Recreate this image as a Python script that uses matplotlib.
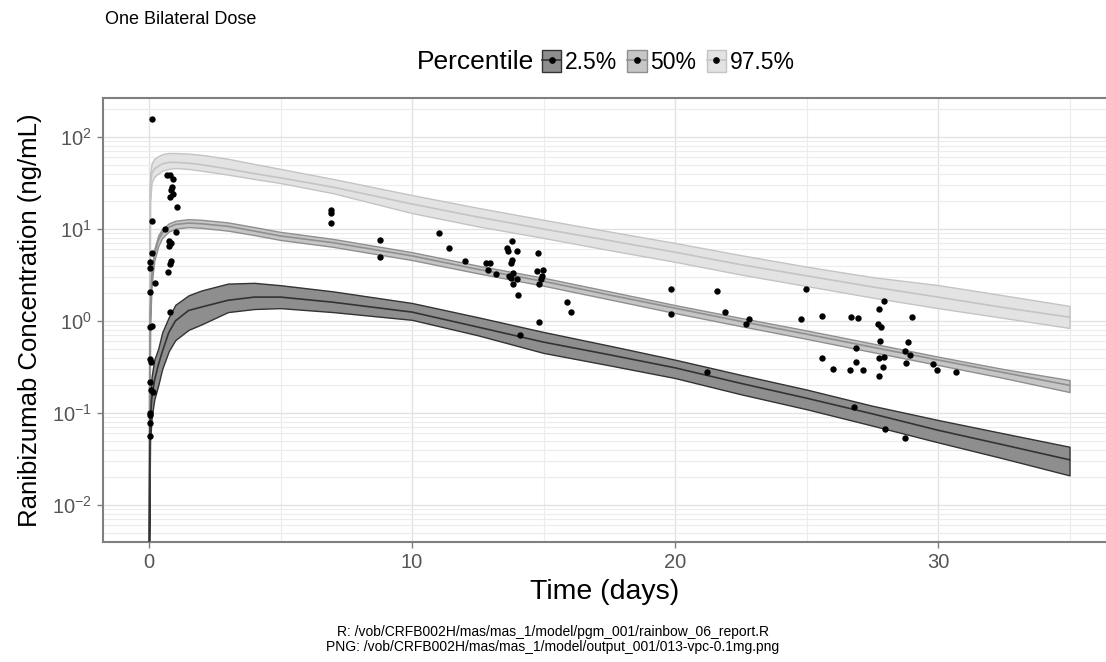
import numpy as np
import matplotlib
matplotlib.use("Agg")
import matplotlib.pyplot as plt
from matplotlib.patches import Patch
from matplotlib.lines import Line2D
from matplotlib.ticker import MultipleLocator, LogLocator, FixedLocator

plt.rcParams['font.family'] = ['Liberation Sans', 'DejaVu Sans']
plt.rcParams['mathtext.fontset'] = 'custom'
plt.rcParams['mathtext.rm'] = 'Liberation Sans'
plt.rcParams['mathtext.it'] = 'Liberation Sans'

# simulated percentile bands (time grid shared by all three)
sim_time = [0, 0.04, 0.1, 0.2, 0.35, 0.5, 0.75, 1.0, 1.5, 2, 3, 4, 5, 7, 10,
            12.5, 15, 17.5, 20, 22.5, 25, 27.5, 30, 32.5, 35]

p025_lo = [0.003, 0.05, 0.09, 0.14, 0.2, 0.3, 0.47, 0.62, 0.8, 0.92, 1.25, 1.35, 1.38, 1.25, 1.03,
           0.7, 0.45, 0.33, 0.24, 0.16, 0.11, 0.073, 0.048, 0.032, 0.021]
p025_mid = [0.003, 0.08, 0.14, 0.22, 0.33, 0.46, 0.75, 1.0, 1.3, 1.42, 1.68, 1.82, 1.82, 1.6, 1.25,
            0.86, 0.59, 0.43, 0.31, 0.21, 0.145, 0.098, 0.065, 0.045, 0.031]
p025_hi = [0.003, 0.14, 0.25, 0.38, 0.5, 0.75, 1.1, 1.5, 1.9, 2.15, 2.55, 2.6, 2.45, 2.1, 1.57,
           1.1, 0.76, 0.54, 0.38, 0.26, 0.18, 0.12, 0.084, 0.06, 0.043]

p50_lo = [0.003, 0.9, 2.5, 4.5, 6.5, 8.0, 9.4, 10.1, 10.5, 10.3, 9.6, 8.6, 7.6, 6.4, 4.6,
          3.3, 2.42, 1.72, 1.22, 0.88, 0.64, 0.46, 0.333, 0.24, 0.169]
p50_mid = [0.003, 1.2, 3.0, 5.2, 7.5, 9.0, 10.4, 11.2, 11.6, 11.4, 10.7, 9.5, 8.4, 7.1, 5.1,
           3.65, 2.7, 1.92, 1.38, 0.99, 0.72, 0.52, 0.377, 0.275, 0.2]
p50_hi = [0.003, 1.5, 3.5, 6.0, 8.5, 10.0, 11.5, 12.3, 12.8, 12.6, 11.8, 10.5, 9.3, 7.8, 5.6,
          4.0, 2.95, 2.1, 1.49, 1.08, 0.79, 0.57, 0.41, 0.3, 0.228]

p975_lo = [0.003, 20, 32, 37, 40, 43, 45, 46, 45, 43, 39, 35, 31.6, 24.5, 14.9,
           10.7, 8.0, 5.9, 4.4, 3.2, 2.4, 1.8, 1.38, 1.08, 0.84]
p975_mid = [0.003, 28, 40, 45, 48, 51, 53, 53, 52, 50, 45, 40, 36, 28.5, 18.7,
            13.5, 10, 7.5, 5.6, 4.1, 3.1, 2.35, 1.82, 1.4, 1.1]
p975_hi = [0.003, 40, 52, 58, 62, 65, 67, 67, 66, 64, 58, 51, 45, 35, 23.4,
           17, 12.6, 9.4, 7.05, 5.2, 3.9, 3.0, 2.46, 1.9, 1.46]

# observed concentrations
obs_time = [0.11, 0.11, 0.11, 0.05, 0.05, 0.23, 0.05, 0.05, 0.11, 0.05, 0.08, 0.05, 0.08, 0.15,
            0.05, 0.05, 0.05, 0.05,
            0.61, 1.03, 0.76, 0.76, 0.84, 0.84, 0.8, 0.72, 0.8,
            0.68, 0.8, 0.87, 0.84, 0.8, 1.06, 0.9, 0.92,
            6.92, 6.92, 6.92, 8.78, 8.78,
            11.03, 11.41, 12.0, 12.8, 12.95, 12.9, 13.2,
            13.6, 13.65, 13.8, 14.0, 13.8, 13.76, 13.84, 13.69, 13.76, 14.0, 13.84, 14.04,
            14.8, 14.76, 14.98, 14.94, 14.9, 14.83, 14.83, 15.9, 16.05, 14.1,
            19.85, 19.85, 21.6, 21.9, 22.8, 22.7, 21.2,
            24.98, 24.8, 25.6, 25.6, 26.0, 26.7, 26.95, 26.9, 26.88, 26.65, 27.15, 26.8,
            27.95, 27.76, 27.72, 27.83, 27.8, 27.95, 27.76, 27.9, 27.76, 28.0,
            29.0, 28.85, 28.75, 28.93, 28.8, 28.75, 29.8, 29.96, 30.7]
obs_conc = [157, 12.2, 5.5, 4.4, 3.8, 2.6, 2.07, 0.86, 0.88, 0.39, 0.36, 0.22, 0.18, 0.17,
            0.10, 0.095, 0.078, 0.056,
            10, 9.3, 7.4, 6.5, 7.0, 4.5, 4.2, 3.4, 1.25,
            38.6, 38.6, 28.7, 26.5, 22.3, 17.4, 35, 24,
            16.1, 15.0, 11.6, 7.6, 5.0,
            9.1, 6.2, 4.5, 4.27, 4.27, 3.58, 3.24,
            6.2, 5.8, 7.4, 5.75, 4.6, 4.3, 3.3, 3.1, 2.9, 2.85, 2.5, 1.92,
            5.5, 3.5, 3.58, 3.1, 2.85, 2.5, 0.975, 1.61, 1.25, 0.70,
            2.23, 1.19, 2.12, 1.25, 1.05, 0.93, 0.28,
            2.23, 1.05, 1.13, 0.40, 0.30, 1.1, 1.08, 0.51, 0.36, 0.29, 0.29, 0.116,
            1.65, 1.35, 0.93, 0.86, 0.61, 0.41, 0.40, 0.32, 0.25, 0.067,
            1.1, 0.59, 0.47, 0.43, 0.35, 0.054, 0.34, 0.29, 0.28]

pct_labels = ['2.5%', '50%', '97.5%']
pct_fill = ['#8e8e8e', '#c6c6c6', '#e3e3e3']
pct_edge = ['#333333', '#8f8f8f', '#c4c4c4']

fig = plt.figure(figsize=(11.06, 6.62), dpi=100)
ax = fig.add_axes([103 / 1106, 1 - 542 / 662, 1 - 103 / 1106, 444 / 662])

bands = [(p975_lo, p975_mid, p975_hi, 2), (p50_lo, p50_mid, p50_hi, 1), (p025_lo, p025_mid, p025_hi, 0)]
for lo, mid, hi, k in bands:
    ax.fill_between(sim_time, lo, hi, facecolor=pct_fill[k], edgecolor=pct_edge[k], linewidth=1.0, zorder=2)
    ax.plot(sim_time, mid, color=pct_edge[k], linewidth=1.2, zorder=3)

ax.scatter(obs_time, obs_conc, s=21, color='black', zorder=5, linewidths=0)

ax.set_yscale('log')
ax.set_xlim(-1.75, -1.75 + 1003 / 26.3)
ax.set_ylim(10 ** -2.402, 10 ** 2.424)

ax.xaxis.set_major_locator(FixedLocator([0, 10, 20, 30]))
ax.xaxis.set_minor_locator(MultipleLocator(5))
ax.yaxis.set_major_locator(FixedLocator([1e-2, 1e-1, 1, 10, 100]))
ax.yaxis.set_minor_locator(LogLocator(base=10, subs=np.arange(2, 10), numticks=20))
ax.set_yticklabels([r'$10^{-2}$', r'$10^{-1}$', r'$10^{0}$', r'$10^{1}$', r'$10^{2}$'])
ax.set_xticklabels(['0', '10', '20', '30'])

ax.set_axisbelow(True)
ax.grid(which='major', color='#e2e2e2', linewidth=1.0, zorder=0)
ax.grid(which='minor', color='#ececec', linewidth=0.8, zorder=0)

ax.tick_params(which='major', length=4, width=1, color='#7f7f7f', labelsize=14.5, labelcolor='#555555', pad=4)
ax.tick_params(which='minor', length=0)
for side in ['left', 'bottom', 'top']:
    ax.spines[side].set_color('#7f7f7f')
    ax.spines[side].set_linewidth(1.5)
ax.spines['right'].set_visible(False)

ax.set_xlabel('Time (days)', fontsize=20.5, labelpad=5)
ax.set_ylabel('Ranibizumab Concentration (ng/mL)', fontsize=18.5, labelpad=7)

fig.text(105 / 1106, 1 - 20 / 662, 'One Bilateral Dose', fontsize=13, va='center', ha='left')

# legend at top
fig.text(417 / 1106, 1 - 62 / 662, 'Percentile', fontsize=19, va='center', ha='left')
handles = []
for k in range(3):
    handles.append((Patch(facecolor=pct_fill[k], edgecolor=pct_edge[k], linewidth=1.0),
                    Line2D([], [], color=pct_edge[k], linewidth=1.2, marker='o', markersize=3.8,
                           markerfacecolor='black', markeredgecolor='black')))
fig.legend(handles, pct_labels, loc='center left', bbox_to_anchor=(542 / 1106, 1 - 62 / 662),
           ncol=3, frameon=False, fontsize=16.5, handlelength=0.85, handleheight=1.1,
           handletextpad=0.15, columnspacing=0.45, borderaxespad=0, borderpad=0)

fig.text(0.5, 1 - 632 / 662, 'R: /vob/CRFB002H/mas/mas_1/model/pgm_001/rainbow_06_report.R',
         fontsize=10, ha='center', va='center')
fig.text(0.5, 1 - 647 / 662, 'PNG: /vob/CRFB002H/mas/mas_1/model/output_001/013-vpc-0.1mg.png',
         fontsize=10, ha='center', va='center')

fig.savefig('out.png', dpi=100)
